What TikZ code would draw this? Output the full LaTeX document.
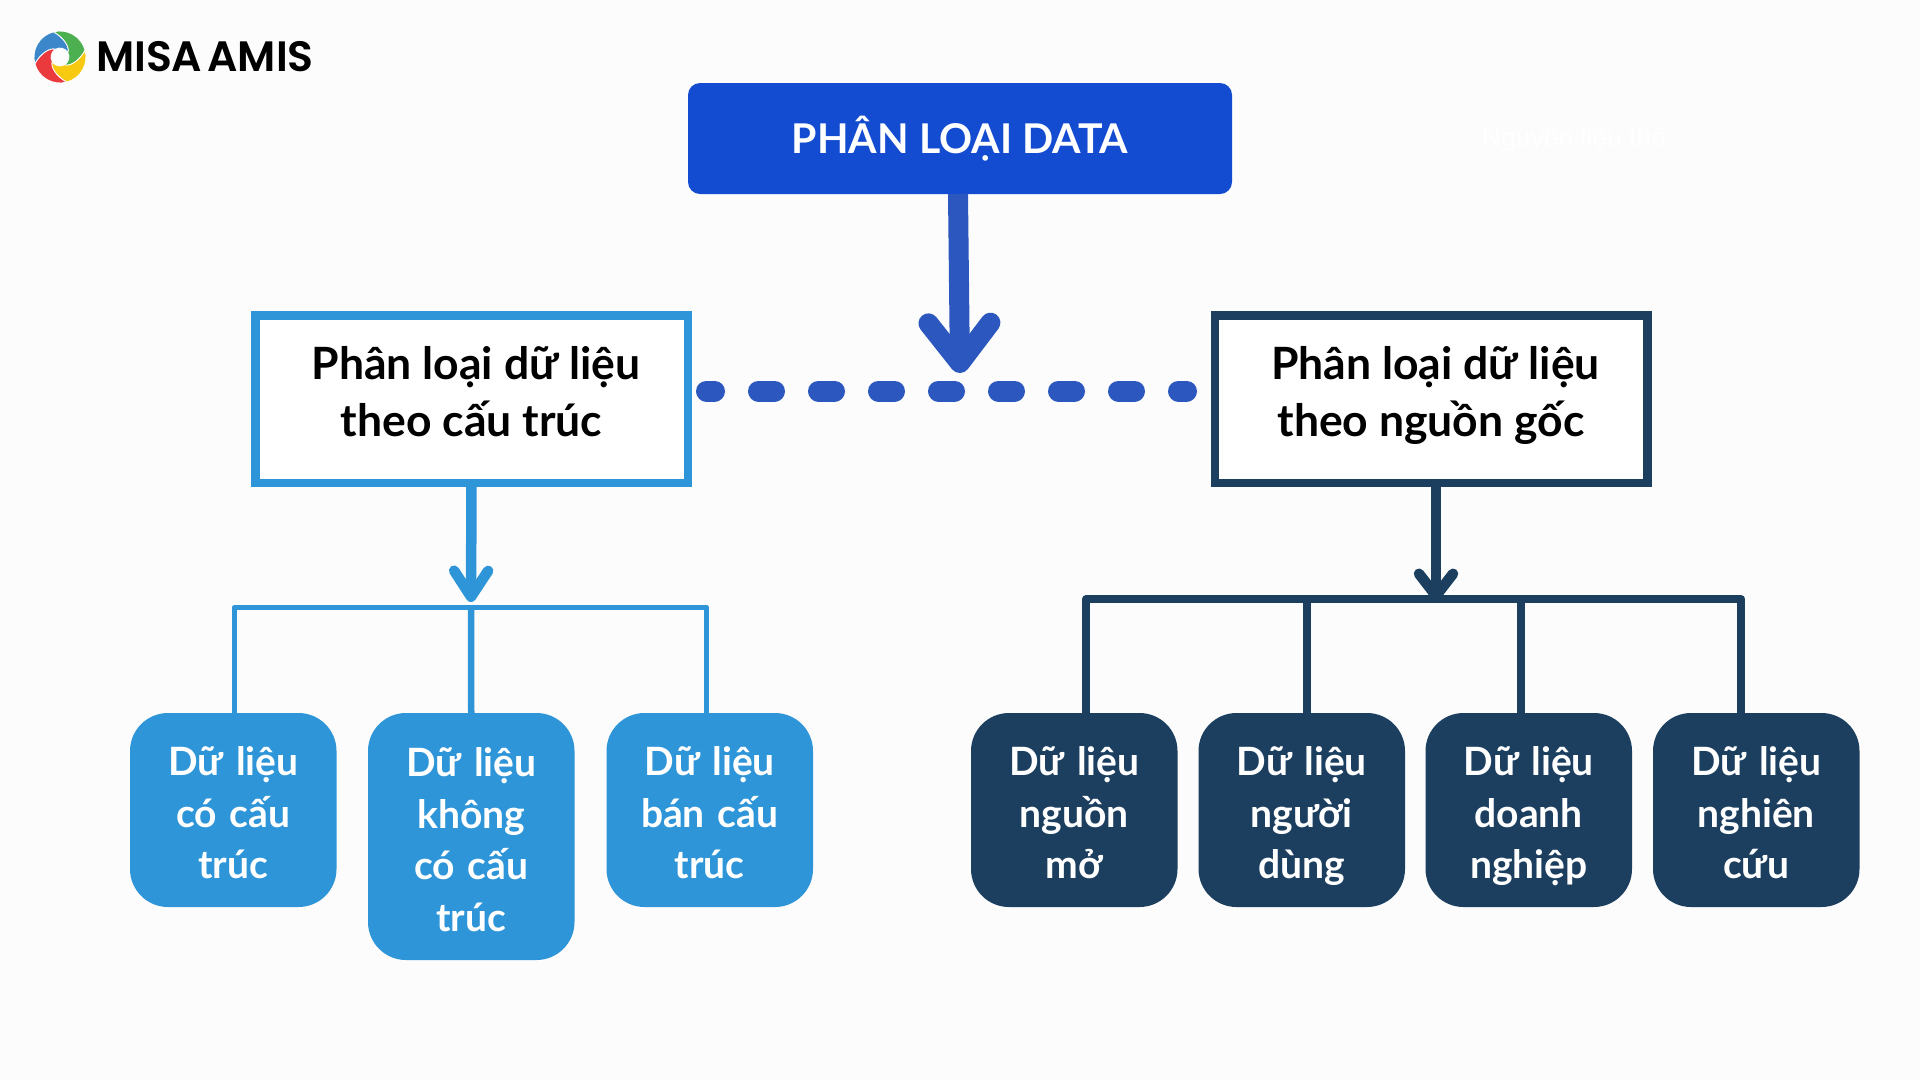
\documentclass[tikz,border=0pt]{standalone}
\usepackage{fontspec}
\setmainfont{Lato}
\newfontfamily\logofont{Poppins SemiBold}
\newfontfamily\hiddenfont{Liberation Sans}
\usetikzlibrary{positioning,arrows.meta}
\definecolor{pagebg}{HTML}{FCFCFC}
\definecolor{titleblue}{HTML}{134CD0}
\definecolor{mainarrow}{HTML}{2B57BE}
\definecolor{skyblue}{HTML}{2E95D8}
\definecolor{navy}{HTML}{1C3F60}
\definecolor{misablue}{HTML}{3B87C9}
\definecolor{misagreen}{HTML}{4CAF50}
\definecolor{misayellow}{HTML}{F7C910}
\definecolor{misared}{HTML}{EA3A3E}
\begin{document}
\begin{tikzpicture}[x=1pt, y=-1pt, outer sep=0pt]
% Definition of blocks:
\tikzset{%
  titlebox/.style = {fill=titleblue, text=white, rounded corners=12pt, minimum width=544pt, minimum height=111pt, font=\bfseries\fontsize{41}{46}\selectfont},
  headbox/.style  = {draw, fill=white, line width=8.5pt, minimum width=432.5pt, minimum height=167.5pt, align=center, text=black, font=\bfseries\fontsize{44.5}{57}\selectfont},
  leaf/.style     = {rounded corners=38pt, text=white, minimum width=206.5pt, text width=190pt, align=center, font=\bfseries\fontsize{39}{51.5}\selectfont, execute at begin node={\rule{0pt}{50pt}}, execute at end node=\strut},
  skyleaf/.style  = {leaf, fill=skyblue},
  navyleaf/.style = {leaf, fill=navy}
}
\fill[pagebg] (0,0) rectangle (1920,1080);
\useasboundingbox (0,0) rectangle (1920,1080);
% logo
\begin{scope}[shift={(60,57)}, y=1pt]
  \foreach \rot/\col in {0/misagreen,-90/misayellow,-180/misared,-270/misablue}
    \fill[\col, draw=white, line width=.8pt, rotate=\rot] (105:26) arc[start angle=105, end angle=15, radius=26]
      .. controls (-10:20) and (-45:14) .. (-60:9) arc[start angle=-60, end angle=30, radius=9]
      .. controls (45:14) and (80:20) .. (105:26) -- cycle;
\end{scope}
\draw
  node [anchor=west, inner sep=0pt, font=\logofont\fontsize{42.5}{42.5}\selectfont] (logo) at (96,57) {MISA\hspace{-5pt} AMIS}
  node [titlebox] (T) at (960,138.5) {PHÂN LOẠI DATA}
  node [anchor=center, inner sep=0pt, text=white, font=\hiddenfont\fontsize{26.5}{26.5}\selectfont] (ghost) at (1574,140) {Nguyên liệu thô}
  node [headbox, draw=skyblue] (L) at (471.5,399) {\hspace*{9pt}Phân loại dữ liệu\\theo cấu trúc\\[-41pt]}
  node [headbox, draw=navy] (R) at (1431,399) {\hspace*{9pt}Phân loại dữ liệu\\theo nguồn gốc\\[-41pt]}
  node [skyleaf, minimum height=194pt, anchor=north west] (a1) at (130,713) {Dữ liệu\\có cấu\\trúc}
  node [skyleaf, minimum height=247pt, right=31.5pt of a1.north east, anchor=north west] (a2) {Dữ liệu\\không\\có cấu\\trúc}
  node [skyleaf, minimum height=194pt, right=32pt of a2.north east, anchor=north west] (a3) {Dữ liệu\\bán cấu\\trúc}
  node [navyleaf, minimum height=194pt, anchor=north west] (b1) at (971,713) {Dữ liệu\\nguồn\\mở}
  node [navyleaf, minimum height=194pt, right=21pt of b1.north east, anchor=north west] (b2) {Dữ liệu\\người\\dùng}
  node [navyleaf, minimum height=194pt, right=20.5pt of b2.north east, anchor=north west] (b3) {Dữ liệu\\doanh\\nghiệp}
  node [navyleaf, minimum height=194pt, right=21pt of b3.north east, anchor=north west] (b4) {Dữ liệu\\nghiên\\cứu};

\coordinate (tipT) at (960,373);
\coordinate (dashL) at (706.5,391);
\coordinate (dashR) at (1186.5,391);
\coordinate (tipL) at (471,602);
\coordinate (busL) at (471,607.5);
\coordinate (tipR) at (1436,601);
\coordinate (busR) at (1436,599);

\draw[mainarrow, line width=20pt, -{Straight Barb[round, length=40pt, width=62pt]}] ([xshift=-2pt]T.south) -- (tipT);
\draw[mainarrow, line width=21pt, line cap=round, dash pattern=on 16pt off 44pt, dash phase=8pt] (dashL) -- (dashR);
\draw[skyblue, line width=10.5pt, -{Straight Barb[round, length=26pt, width=34pt]}] (L.south) -- (tipL);
\draw[navy, line width=10.5pt, -{Straight Barb[round, length=22pt, width=34pt]}] ([xshift=5pt]L.south -| R.south) -- (tipR);
\draw[skyblue, line width=5pt, line join=round] ([xshift=1pt]a1.north) |- (busL) -| ([xshift=-3pt]a3.north);
\draw[skyblue, line width=6.5pt] (a2.north) -- (busL);
\draw[navy, line width=8pt, line join=round] ([xshift=12pt]b1.north) |- (busR) -| ([xshift=-15pt]b4.north);
\draw[navy, line width=8pt] ([xshift=5pt]b2.north) -- ([xshift=5pt]b2.north |- busR);
\draw[navy, line width=8pt] ([xshift=-8pt]b3.north) -- ([xshift=-8pt]b3.north |- busR);
\end{tikzpicture}
\end{document}
